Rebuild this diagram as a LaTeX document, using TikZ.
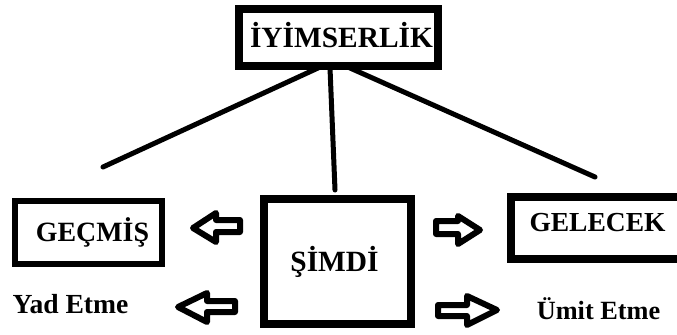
\documentclass[tikz,border=0pt]{standalone}
\usepackage{fontspec}
\setmainfont{Liberation Serif}
\begin{document}
\begin{tikzpicture}[x=1bp,y=1bp,
  box/.style={draw=black, line width=#1, inner sep=0pt, text depth=0pt},
  lbl/.style={inner sep=0pt, text depth=0pt},
  conn/.style={line width=5bp, line cap=round},
  blockarrow/.style={draw=black, fill=white, line width=6bp, line join=round}]
\useasboundingbox (0,0) rectangle (677,334);
\clip (0,0) rectangle (677,334);
% boxes
\node[box=8bp, minimum width=199bp, minimum height=57bp, text height=19.5bp,
      font=\fontsize{29.5}{34}\selectfont\bfseries] (top) at (338.5,296.5) {\hspace*{6bp}İYİMSERLİK};
\node[box=6bp, minimum width=147bp, minimum height=63bp, text height=18.5bp,
      font=\fontsize{28}{32}\selectfont\bfseries] (gecmis) at (88.5,101.5) {\hspace*{8bp}GEÇMİŞ};
\node[box=8bp, minimum width=147bp, minimum height=125bp, text height=19.5bp,
      font=\fontsize{29.5}{34}\selectfont\bfseries] (simdi) at (337.5,72.5) {ŞİMDİ\hspace*{6bp}};
\node[box=8bp, minimum width=173bp, minimum height=62bp, text height=18.2bp, text depth=12bp,
      font=\fontsize{27.6}{32}\selectfont\bfseries] (gelecek) at (597.5,106) {GELECEK};
% labels
\node[lbl, text height=18.3bp, font=\fontsize{27.7}{32}\selectfont\bfseries] (yad) at (70.5,30) {Yad Etme};
\node[lbl, text height=17.4bp, font=\fontsize{26.4}{30}\selectfont\bfseries] (umit) at (598.5,23) {Ümit Etme};
% connector free ends
\coordinate (e1) at (103,167);
\coordinate (e2) at (335,144);
\coordinate (e3) at (595,157);
\draw[conn] ([xshift=-20.5bp,yshift=2bp]top.south) -- (e1);
\draw[conn] ([xshift=-8.5bp,yshift=2bp]top.south) -- (e2);
\draw[conn] ([xshift=11.5bp,yshift=2bp]top.south) -- (e3);
% block arrows
\draw[blockarrow] (193,106) -- (216,121) -- (216,114) -- (240,114) -- (240,102) -- (216,102) -- (216,92) -- cycle;
\draw[blockarrow] (178,27) -- (207,41) -- (207,33) -- (235,33) -- (235,22) -- (207,22) -- (207,12) -- cycle;
\draw[blockarrow] (436,113) -- (458,113) -- (458,118) -- (480,104) -- (458,90) -- (458,100) -- (436,100) -- cycle;
\draw[blockarrow] (438,29) -- (467,29) -- (467,38) -- (497,24) -- (467,9) -- (467,18) -- (438,18) -- cycle;
\end{tikzpicture}
\end{document}
